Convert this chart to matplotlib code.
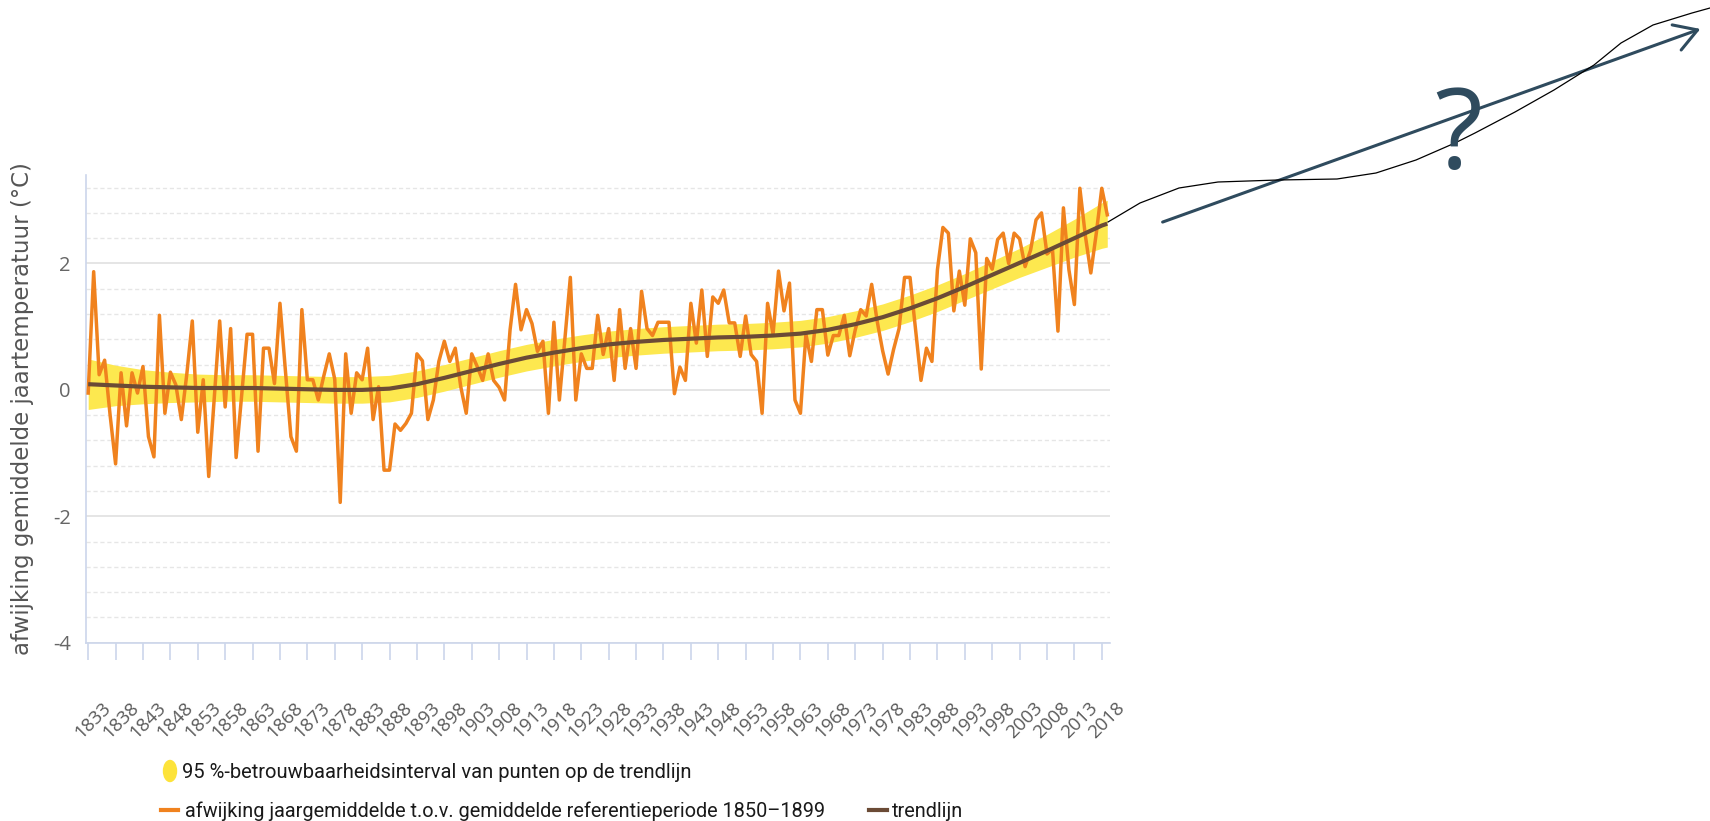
import matplotlib
matplotlib.use("Agg")
import matplotlib.pyplot as plt
import matplotlib.transforms as mtransforms
from matplotlib.patches import Ellipse, FancyArrowPatch
from matplotlib.lines import Line2D
import numpy as np

# yearly anomaly of the annual mean temperature vs. 1850-1899 (degC)
years = list(range(1833, 2020))
anomaly = [
    -0.05, 1.87, 0.24, 0.47, -0.40, -1.17, 0.27,                          # 1833-1839
    -0.57, 0.27, -0.05, 0.37, -0.74, -1.06, 1.18, -0.37, 0.28, 0.08,      # 1840s
    -0.47, 0.25, 1.09, -0.67, 0.16, -1.37, -0.15, 1.09, -0.27, 0.97,      # 1850s
    -1.07, -0.10, 0.88, 0.88, -0.97, 0.66, 0.66, 0.10, 1.37, 0.30,        # 1860s
    -0.74, -0.97, 1.27, 0.16, 0.16, -0.16, 0.22, 0.57, 0.17, -1.78,       # 1870s
    0.57, -0.37, 0.27, 0.16, 0.66, -0.47, 0.05, -1.27, -1.27, -0.54,      # 1880s
    -0.64, -0.53, -0.37, 0.57, 0.46, -0.47, -0.16, 0.45, 0.77, 0.45,      # 1890s
    0.66, 0.05, -0.37, 0.57, 0.37, 0.15, 0.57, 0.15, 0.04, -0.16,         # 1900s
    0.95, 1.67, 0.95, 1.27, 1.05, 0.61, 0.77, -0.37, 1.07, -0.16,         # 1910s
    0.80, 1.78, -0.16, 0.57, 0.34, 0.34, 1.18, 0.56, 0.97, 0.15,          # 1920s
    1.27, 0.34, 0.97, 0.34, 1.56, 0.97, 0.86, 1.07, 1.07, 1.07,           # 1930s
    -0.06, 0.36, 0.15, 1.37, 0.74, 1.58, 0.53, 1.47, 1.37, 1.58,          # 1940s
    1.06, 1.06, 0.53, 1.17, 0.56, 0.45, -0.37, 1.37, 0.88, 1.88,          # 1950s
    1.25, 1.69, -0.16, -0.37, 0.88, 0.45, 1.27, 1.27, 0.55, 0.86,         # 1960s
    0.86, 1.18, 0.54, 0.95, 1.27, 1.17, 1.67, 1.09, 0.62, 0.25,           # 1970s
    0.64, 0.97, 1.78, 1.78, 0.97, 0.15, 0.66, 0.45, 1.90, 2.57,           # 1980s
    2.48, 1.25, 1.88, 1.34, 2.39, 2.17, 0.33, 2.08, 1.91, 2.38,           # 1990s
    2.48, 2.00, 2.48, 2.39, 1.95, 2.21, 2.69, 2.80, 2.15, 2.23,           # 2000s
    0.93, 2.88, 1.90, 1.35, 3.19, 2.44, 1.85, 2.48, 3.19, 2.77,           # 2010s
]

# smoothed trend and half width of its 95% band
trend_years = list(range(1833, 2019, 5)) + [2019]
trend = [0.09, 0.07, 0.05, 0.04, 0.03, 0.03, 0.03, 0.02, 0.01, 0.00,
         0.00, 0.02, 0.09, 0.19, 0.30, 0.41, 0.51, 0.59, 0.66, 0.72,
         0.76, 0.79, 0.81, 0.83, 0.84, 0.86, 0.89, 0.95, 1.04, 1.15,
         1.29, 1.45, 1.63, 1.82, 2.01, 2.20, 2.40, 2.60, 2.63]
band_half = [0.40, 0.32, 0.27, 0.24, 0.22, 0.21, 0.21, 0.21, 0.21, 0.21,
             0.21, 0.21, 0.21, 0.21, 0.21, 0.21, 0.21, 0.21, 0.21, 0.21,
             0.21, 0.21, 0.21, 0.21, 0.21, 0.21, 0.21, 0.21, 0.21, 0.21,
             0.21, 0.21, 0.21, 0.22, 0.23, 0.26, 0.30, 0.36, 0.37]

ytick_vals = [-4, -2, 0, 2]
xtick_years = list(range(1833, 2019, 5))

ORANGE = "#f0821e"
BROWN = "#6b4b36"
YELLOW = "#fde84f"
SLATE = "#2f4b5e"

W, H = 1710, 821


def fxy(x, y):
    # pixel position -> figure fraction
    return x / W, 1 - y / H


plt.rcParams["axes.unicode_minus"] = False
fig = plt.figure(figsize=(W / 100, H / 100), dpi=100)
ax = fig.add_axes([86 / W, 1 - 642.7 / H, (1110 - 86) / W, (642.7 - 175) / H])

lower = np.array(trend) - np.array(band_half)
upper = np.array(trend) + np.array(band_half)
ax.fill_between(trend_years, lower, upper, color=YELLOW, lw=0, zorder=2)
ax.plot(years, anomaly, color=ORANGE, lw=2.5, zorder=3)
ax.plot(trend_years, trend, color=BROWN, lw=3.0, zorder=4, solid_capstyle="butt")

ax.set_xlim(1832.6, 2019.5)
ax.set_ylim(-4, 3.4)
ax.set_yticks(ytick_vals)
ax.set_yticks([v for v in np.arange(-3.6, 3.3, 0.4) if abs(v / 2 - round(v / 2)) > 0.01],
              minor=True)
ax.yaxis.grid(True, which="major", color="#e3e3e3", lw=1.3, zorder=0)
ax.yaxis.grid(True, which="minor", color="#e6e6e6", lw=1.0, ls=(0, (3, 2)), zorder=0)
ax.set_axisbelow(True)
for s in ("top", "right"):
    ax.spines[s].set_visible(False)
for s in ("left", "bottom"):
    ax.spines[s].set_color("#ccd6eb")
    ax.spines[s].set_linewidth(1.2)

ax.tick_params(axis="y", which="both", length=0, pad=11, labelsize=14.5,
               labelcolor="#666666")
for lbl in ax.get_yticklabels():
    lbl.set_family("Open Sans")

ax.set_xticks(xtick_years)
ax.set_xticklabels([str(y) for y in xtick_years])
ax.tick_params(axis="x", length=12, width=1.2, color="#ccd6eb", pad=33,
               labelsize=13.5, labelcolor="#5a5a5a")
offset = mtransforms.ScaledTranslation(20 / 100, 0, fig.dpi_scale_trans)
for lbl in ax.get_xticklabels():
    lbl.set_family("Open Sans")
    lbl.set_rotation(45)
    lbl.set_ha("right")
    lbl.set_va("center")
    lbl.set_rotation_mode("anchor")
    lbl.set_transform(lbl.get_transform() + offset)

ax.set_ylabel("afwijking gemiddelde jaartemperatuur (°C)", fontsize=16.5,
              color="#555555", labelpad=0)
ax.yaxis.set_label_coords(-52 / (1110 - 86), 0.5)

# legend below the chart
legend_font = "Roboto"
fig.patches.append(Ellipse(fxy(170, 771), 13 / W, 21 / H, color="#fde33a",
                           transform=fig.transFigure, figure=fig))
fig.text(*fxy(182, 772), "95 %-betrouwbaarheidsinterval van punten op de trendlijn",
         family=legend_font, fontsize=14.5, color="#1a1a1a", va="center")
fig.lines.append(Line2D([161 / W, 178 / W], [1 - 810 / H] * 2, color=ORANGE, lw=3,
                        transform=fig.transFigure, figure=fig))
fig.text(*fxy(185, 811),
         "afwijking jaargemiddelde t.o.v. gemiddelde referentieperiode 1850\u20131899",
         family=legend_font, fontsize=14.3, color="#1a1a1a", va="center")
fig.lines.append(Line2D([869 / W, 887 / W], [1 - 810 / H] * 2, color=BROWN, lw=3,
                        transform=fig.transFigure, figure=fig))
fig.text(*fxy(892, 811), "trendlijn", family=legend_font, fontsize=14.3,
         color="#1a1a1a", va="center")

# sketch of a possible continuation: thin curve, straight arrow and "?"
curve_px = [(1108, 222), (1140, 203), (1179, 188), (1218, 182), (1278, 180),
            (1337, 179), (1376, 173), (1416, 160), (1455, 143), (1475, 133),
            (1515, 112), (1554, 90), (1594, 65), (1621, 43), (1653, 25),
            (1692, 13), (1710, 8)]
cx, cy = zip(*[fxy(x, y) for x, y in curve_px])
fig.lines.append(Line2D(cx, cy, color="black", lw=0.9, transform=fig.transFigure,
                        figure=fig, solid_joinstyle="round"))
arrow = FancyArrowPatch(fxy(1160, 223), fxy(1703, 28), transform=fig.transFigure,
                        arrowstyle="->,head_length=10,head_width=6", color=SLATE,
                        lw=2.2, mutation_scale=1.6)
fig.patches.append(arrow)
fig.text(*fxy(1458, 139), "?", fontsize=80, color=SLATE, ha="center", va="center",
         family="Open Sans")

fig.savefig("out.png", dpi=100)
